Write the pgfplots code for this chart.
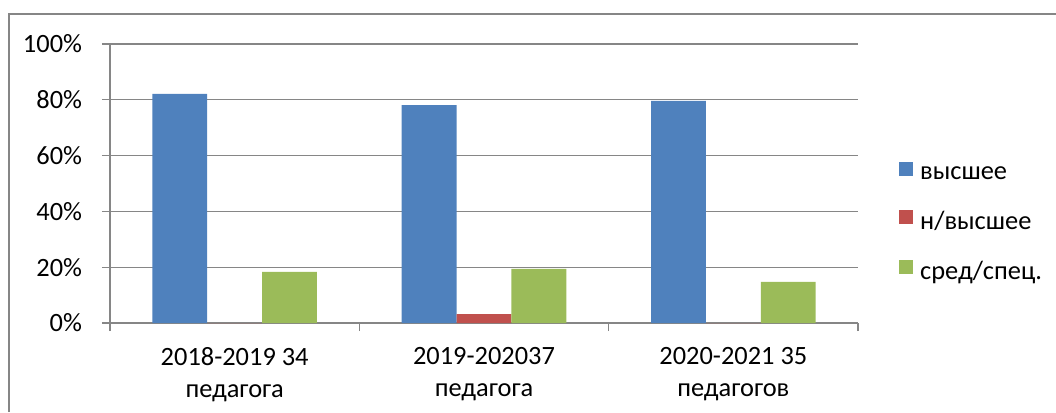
\documentclass[border=0pt]{standalone}
\usepackage{pgfplots}
\pgfplotsset{compat=1.18}
\usepackage{fontspec}
\setmainfont{Carlito}
\definecolor{cblue}{HTML}{4F81BD}
\definecolor{cred}{HTML}{C0504D}
\definecolor{cgreen}{HTML}{9BBB59}
\definecolor{cgrid}{HTML}{868686}
\begin{document}
\fontsize{26.4}{32}\selectfont
\begin{tikzpicture}
\path[use as bounding box] (0pt,0pt) rectangle (1056pt,412pt);
\draw[cgrid, line width=2pt] (8.5pt,0pt) -- (8.5pt,397.5pt) -- (1056pt,397.5pt);
\begin{axis}[
  at={(110pt,89pt)}, anchor=south west,
  scale only axis, width=748pt, height=279pt,
  ybar=0pt, bar width=0.22,
  xmin=-0.5, xmax=2.5, ymin=0, ymax=100,
  axis x line*=bottom, axis y line*=left,
  axis line style={cgrid, line width=1.2pt},
  xtick={-0.5,0.5,1.5,2.5}, xticklabels={},
  extra x ticks={0,1,2},
  extra x tick labels={{2018-2019 34\\педагога},{2019-202037\\педагога},{2020-2021 35\\педагогов}},
  extra x tick style={major tick length=0pt, xticklabel style={align=center, yshift=-15pt, font=\fontsize{26.4}{32}\selectfont}},
  ytick={0,20,40,60,80,100},
  yticklabels={0\%,20\%,40\%,60\%,80\%,100\%},
  yticklabel style={xshift=-11pt},
  ymajorgrids, grid style={cgrid, line width=1.2pt},
  tick align=outside, major tick length=8pt,
  tick style={cgrid, line width=1.2pt},
  tick label style={font=\fontsize{26.4}{32}\selectfont, text=black},
  legend style={draw=none, fill=none, at={(1.0548,0.355)}, anchor=west,
    font=\fontsize{26.4}{32}\selectfont, row sep=24pt, inner sep=0pt},
  legend cell align=left,
  legend image code/.code={\fill[#1] (0pt,-1pt) rectangle (14pt,13pt); \path (19pt,0pt);},
]
\addplot[fill=cblue, draw=none] coordinates {(0,82.1) (1,78.1) (2,79.6)};
\addplot[fill=cred, draw=none] coordinates {(0,0) (1,3.2) (2,0)};
\addplot[fill=cgreen, draw=none] coordinates {(0,18.3) (1,19.4) (2,14.7)};
\legend{высшее, н/высшее, сред/спец.}
\end{axis}
\end{tikzpicture}
\end{document}
